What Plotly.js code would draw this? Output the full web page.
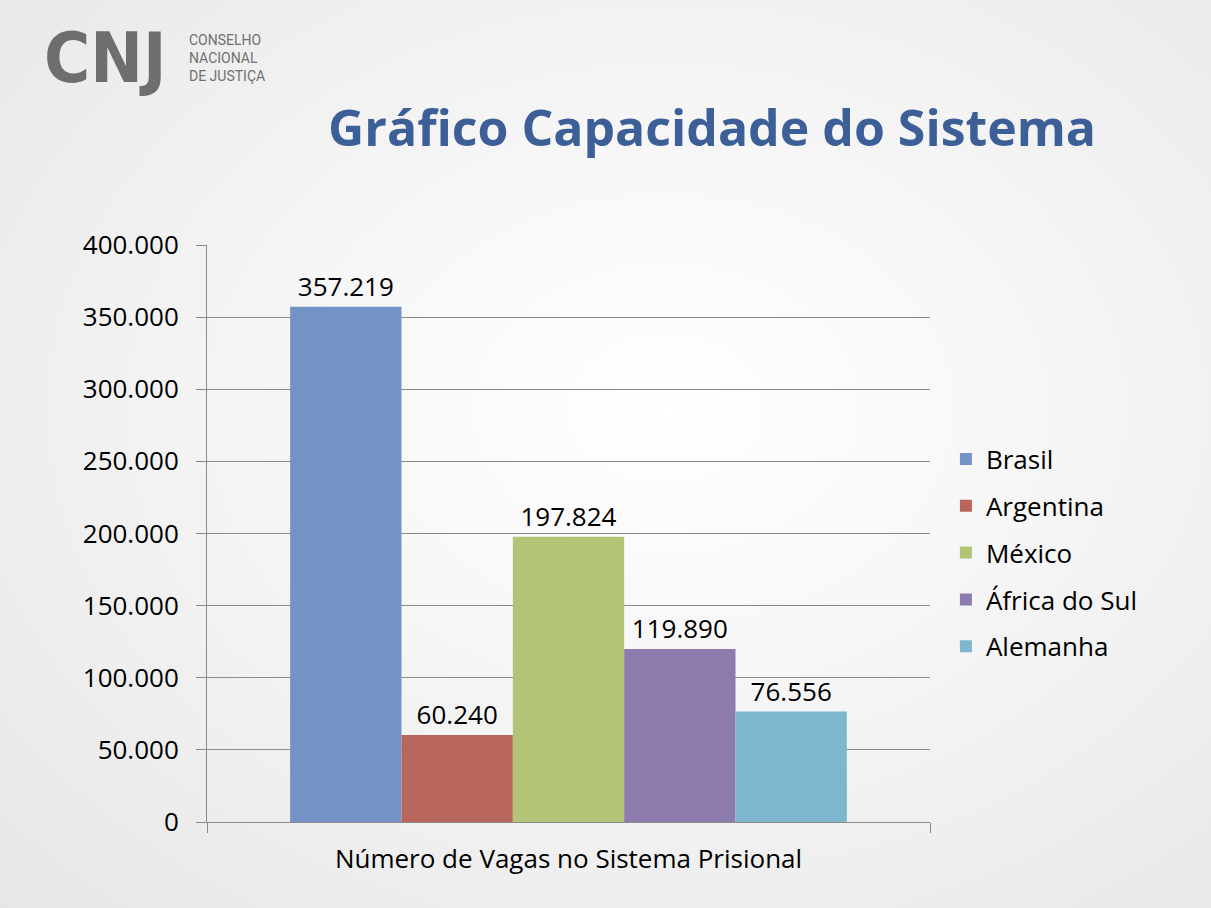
<!DOCTYPE html>
<html>
<head>
<meta charset="utf-8">
<script src="https://cdn.plot.ly/plotly-3.0.1.min.js"></script>
<style>
html,body{margin:0;padding:0;}
body{width:1211px;height:908px;overflow:hidden;
background: radial-gradient(ellipse at 55% 45%, #ffffff 0%, #f6f6f6 40%, #e6e6e6 100%);}
#chart{width:1211px;height:908px;}
</style>
</head>
<body>
<div id="chart"></div>
<script>
const category = ["Número de Vagas no Sistema Prisional"];
const countries = ["Brasil", "Argentina", "México", "África do Sul", "Alemanha"];
const values = [357219, 60240, 197824, 119890, 76556];
const colors = ["#7393c7", "#b8665c", "#b2c475", "#8d7bae", "#7eb6ce"];
const yTicks = [0, 50000, 100000, 150000, 200000, 250000, 300000, 350000, 400000];

const font = "Open Sans, Noto Sans, sans-serif";

const traces = countries.map((name, i) => ({
  type: "bar",
  name: name,
  x: category,
  y: [values[i]],
  marker: {color: colors[i], line: {width: 0}},
  texttemplate: "%{y:,d}",
  textposition: "outside",
  textfont: {family: font, size: 26, color: "#000"},
  cliponaxis: false,
  legendgroup: "g" + i,
  hoverinfo: "name+y"
}));

const layout = {
  width: 1211, height: 908,
  paper_bgcolor: "rgba(0,0,0,0)",
  plot_bgcolor: "rgba(0,0,0,0)",
  separators: ",.",
  margin: {l: 207, r: 281, t: 245, b: 86},
  barmode: "group",
  bargap: 0.23,
  bargroupgap: 0,
  showlegend: true,
  title: {
    text: "<b>Gráfico Capacidade do Sistema</b>",
    font: {family: font, size: 50, color: "#3d5f97"},
    x: 0.588, xanchor: "center", y: 0.859, yanchor: "middle"
  },
  xaxis: {
    type: "category",
    showline: true, linecolor: "#8a8a8a", linewidth: 1,
    ticks: "outside", tickson: "boundaries", ticklen: 10, tickcolor: "#8a8a8a",
    tickfont: {family: font, size: 26, color: "#000"},
    ticklabelstandoff: 14,
    showgrid: false, zeroline: false
  },
  yaxis: {
    range: [0, 400000],
    tickvals: yTicks,
    tickformat: ",d",
    showline: true, linecolor: "#8a8a8a", linewidth: 1,
    ticks: "outside", ticklen: 10, tickcolor: "#8a8a8a",
    showgrid: true, gridcolor: "#8a8a8a", gridwidth: 1,
    zeroline: false,
    tickfont: {family: font, size: 26, color: "#000"},
    ticklabelstandoff: 12
  },
  legend: {
    x: 1.022, xanchor: "left", y: 0.466, yanchor: "middle",
    font: {family: font, size: 26, color: "#000"},
    tracegroupgap: 10,
    itemwidth: 30,
    bgcolor: "rgba(0,0,0,0)"
  },
  annotations: [
    {text: "<b>CNJ</b>", xref: "paper", yref: "paper", x: -0.228, y: 1.324, xanchor: "left", yanchor: "middle",
     showarrow: false, font: {family: "DejaVu Sans Condensed, DejaVu Sans, sans-serif", size: 70, color: "#6e6e6e"}},
    {text: "CONSELHO<br>NACIONAL<br>DE JUSTIÇA", xref: "paper", yref: "paper", x: -0.028, y: 1.324, xanchor: "left", yanchor: "middle",
     align: "left", showarrow: false, font: {family: "Liberation Sans Narrow, Roboto, sans-serif", size: 14, color: "#707070"}}
  ]
};

Plotly.newPlot("chart", traces, layout, {displayModeBar: false, staticPlot: true});
</script>
</body>
</html>
